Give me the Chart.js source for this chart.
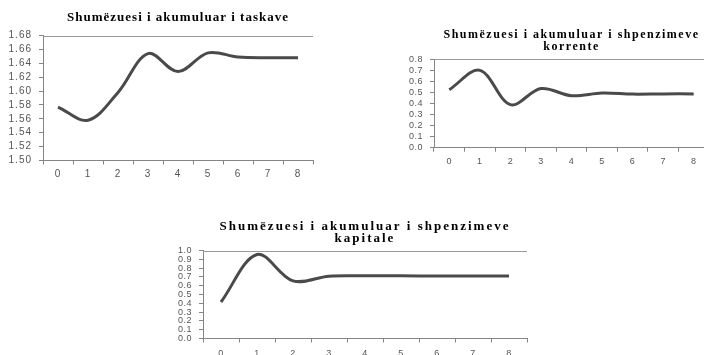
<!DOCTYPE html>
<html>
<head>
<meta charset="utf-8">
<script src="https://cdn.jsdelivr.net/npm/chart.js@4/dist/chart.umd.min.js"></script>
<style>
    html, body { margin: 0; padding: 0; background: #fff; overflow: hidden; width: 704px; height: 355px; }
    canvas { position: absolute; }
</style>
</head>
<body>
<canvas id="graficoTaksave" width="330" height="185" style="left:0;top:0"></canvas>
<canvas id="graficoKorrente" width="345" height="150" style="left:370px;top:20px"></canvas>
<canvas id="graficoKapitale" width="380" height="140" style="left:160px;top:215px"></canvas>
<script>
// periudhat (boshti x)
const periudhat = ['0', '1', '2', '3', '4', '5', '6', '7', '8'];

// vlerat e lexuara nga grafiket
const taksat = [1.577, 1.558, 1.598, 1.654, 1.628, 1.655, 1.649, 1.648, 1.648];
const shpenzimeKorrente = [0.525, 0.700, 0.390, 0.535, 0.470, 0.495, 0.485, 0.487, 0.487];
const shpenzimeKapitale = [0.415, 0.955, 0.655, 0.708, 0.712, 0.712, 0.711, 0.711, 0.711];

const titullTaksave = ['Shumëzuesi i akumuluar i taskave'];
const titullKorrente = ['Shumëzuesi i akumuluar i shpenzimeve', 'korrente'];
const titullKapitale = ['Shumëzuesi i akumuluar i shpenzimeve', 'kapitale'];

const ngjyraVija = '#4a4a4a';
const ngjyraBoshti = '#858585';

// hapesira mes shkronjave: titulli vizatohet para datasets, etiketat pas
const hapesiraShkronjave = {
    id: 'hapesira',
    beforeDraw(chart, args, opts) { chart.ctx.letterSpacing = opts.titull + 'px'; },
    beforeDatasetsDraw(chart, args, opts) { chart.ctx.letterSpacing = opts.etiketa + 'px'; },
    afterDraw(chart) {
        // vija e siperme e zones se grafikut
        const { ctx, chartArea } = chart;
        ctx.save();
        ctx.strokeStyle = '#9a9a9a';
        ctx.lineWidth = 1;
        ctx.beginPath();
        ctx.moveTo(chartArea.left, Math.round(chartArea.top) + 0.5);
        ctx.lineTo(chartArea.right, Math.round(chartArea.top) + 0.5);
        ctx.stroke();
        ctx.restore();
    }
};

function krijoGrafik(id, p) {
    const ctx = document.getElementById(id).getContext('2d');
    return new Chart(ctx, {
        type: 'line',
        data: {
            labels: periudhat,
            datasets: [{
                data: p.vlerat,
                borderColor: ngjyraVija,
                borderWidth: 3,
                pointRadius: 0,
                tension: 0.35,
                fill: false
            }]
        },
        options: {
            responsive: false,
            animation: false,
            layout: { padding: { left: 0, right: p.djathtas, top: 0, bottom: 0 } },
            plugins: {
                legend: { display: false },
                tooltip: { enabled: false },
                title: {
                    display: true,
                    text: p.titulli,
                    fullSize: false,
                    color: '#000',
                    font: { family: 'Liberation Serif', weight: 'bold', size: p.madhTitulli, lineHeight: p.rreshtTitulli },
                    padding: { top: p.titullSiper, bottom: p.titullPoshte }
                },
                hapesira: { titull: p.hapTitulli, etiketa: p.hapEtiketa }
            },
            scales: {
                x: {
                    type: 'category',
                    offset: true,
                    grid: { offset: true, drawOnChartArea: false, tickLength: 4, color: ngjyraBoshti },
                    border: { color: ngjyraBoshti },
                    ticks: {
                        z: 1,
                        padding: p.padX,
                        color: '#555',
                        maxRotation: 0,
                        autoSkip: false,
                        font: { family: 'Liberation Sans', size: p.madhEtiketa }
                    },
                    afterFit: s => { s.height = p.lartesiX; }
                },
                y: {
                    min: p.min,
                    max: p.max,
                    grid: { drawOnChartArea: false, tickLength: 4, color: ngjyraBoshti },
                    border: { color: ngjyraBoshti },
                    ticks: {
                        z: 1,
                        stepSize: p.hapi,
                        autoSkip: false,
                        padding: 7,
                        color: '#555',
                        font: { family: 'Liberation Sans', size: p.madhEtiketa },
                        callback: v => Number(v).toFixed(p.dhjetore)
                    },
                    afterFit: s => { s.width = p.gjeresiY; }
                }
            }
        },
        plugins: [hapesiraShkronjave]
    });
}

krijoGrafik('graficoTaksave', {
    vlerat: taksat, titulli: titullTaksave,
    min: 1.5, max: 1.68, hapi: 0.02, dhjetore: 2,
    madhTitulli: 13, rreshtTitulli: 1.2, titullSiper: 9.5, titullPoshte: 10.4,
    hapTitulli: 1, hapEtiketa: 1, madhEtiketa: 10,
    gjeresiY: 43, djathtas: 17, lartesiX: 24.5, padX: 4
});

krijoGrafik('graficoKorrente', {
    vlerat: shpenzimeKorrente, titulli: titullKorrente,
    min: 0, max: 0.8, hapi: 0.1, dhjetore: 1,
    madhTitulli: 12, rreshtTitulli: '12px', titullSiper: 9, titullPoshte: 6.3,
    hapTitulli: 1.5, hapEtiketa: 0.5, madhEtiketa: 9,
    gjeresiY: 64, djathtas: 6, lartesiX: 22.3, padX: 4
});

krijoGrafik('graficoKapitale', {
    vlerat: shpenzimeKapitale, titulli: titullKapitale,
    min: 0, max: 1.0, hapi: 0.1, dhjetore: 1,
    madhTitulli: 13, rreshtTitulli: '12px', titullSiper: 5.7, titullPoshte: 5.8,
    hapTitulli: 2, hapEtiketa: 0.5, madhEtiketa: 9,
    gjeresiY: 43, djathtas: 13, lartesiX: 16.5, padX: 6
});
</script>
</body>
</html>
